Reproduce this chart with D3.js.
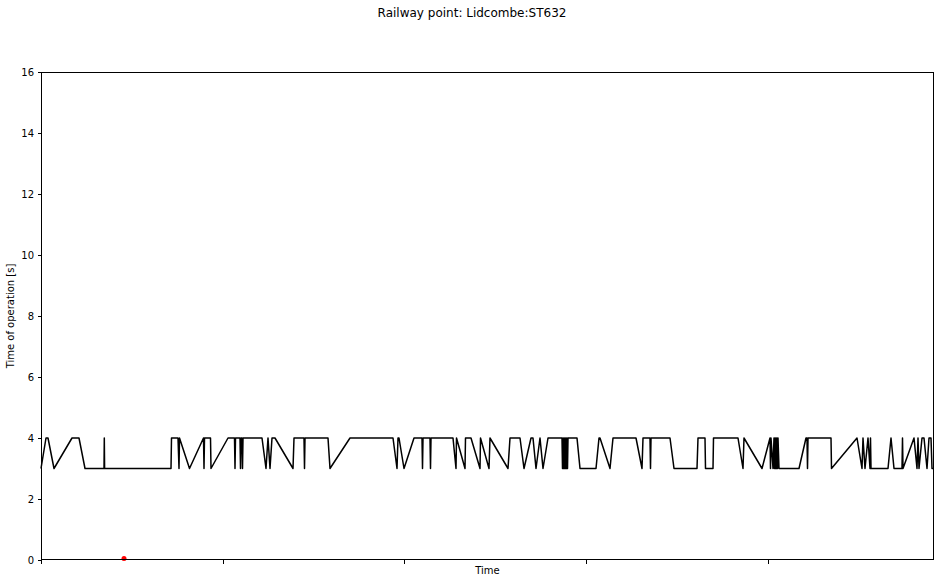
<!DOCTYPE html>
<html>
<head>
<meta charset="utf-8">
<script src="https://cdn.jsdelivr.net/npm/d3@7"></script>
<style>
  html, body { margin: 0; padding: 0; background: #fff; }
  svg { display: block; font-family: "DejaVu Sans", sans-serif; }
</style>
</head>
<body>
<svg id="chart" width="944" height="582"></svg>
<script>
// ---- data (time in arbitrary units since start, value in seconds) ----
const titleText = "Railway point: Lidcombe:ST632";
const xLabel = "Time";
const yLabel = "Time of operation [s]";

const times = [
  0, 5, 7, 13, 31, 38, 44, 63, 63.3, 63.6,
  130, 130.5, 137, 138, 138.5, 148.5, 162.5, 163, 163.5, 169.5,
  170, 187, 193.5, 194, 194.5, 199, 199.5, 200, 201, 201.5,
  202, 221, 225, 227, 229, 231, 234, 252, 253, 263,
  263.5, 264, 287, 289, 309, 352, 356, 357, 358, 363,
  373, 381, 381.5, 382, 389, 389.5, 390, 412, 415, 415.5,
  424, 424.5, 430, 439, 439.5, 448, 449, 467, 469, 479,
  483, 490, 492, 495, 499, 502, 507, 521, 521.5, 522,
  522.5, 523, 523.5, 524, 524.5, 525, 525.5, 526, 526.5, 527,
  536, 539, 555, 558, 559, 569, 572, 595, 601, 602,
  609, 609.5, 610, 629, 633, 656, 657, 664, 664.5, 672,
  672.5, 697, 702, 703, 721, 729, 729.5, 730, 732, 733,
  733.5, 734, 734.5, 735, 735.5, 736, 736.5, 737, 738, 758,
  765, 766, 766.5, 767, 790, 790.5, 816, 821, 822, 824,
  827, 829, 829.5, 830, 847, 850, 853, 861, 861.5, 862,
  873, 876, 877, 878, 881, 883, 886, 888, 890, 891, 893
];
const values = [
  3, 4, 4, 3, 4, 4, 3, 3, 4, 3,
  3, 4, 4, 3, 4, 3, 4, 3, 4, 4,
  3, 4, 4, 3, 4, 4, 3, 4, 4, 3,
  4, 4, 3, 4, 3, 4, 4, 3, 4, 4,
  3, 4, 4, 3, 4, 4, 3, 4, 4, 3,
  4, 4, 3, 4, 4, 3, 4, 4, 3, 4,
  3, 4, 4, 3, 4, 3, 4, 3, 4, 4,
  3, 4, 4, 3, 4, 3, 4, 4, 3, 4,
  3, 4, 3, 4, 3, 4, 3, 4, 3, 4,
  4, 3, 3, 4, 4, 3, 4, 4, 3, 4,
  4, 3, 4, 4, 3, 3, 4, 4, 3, 3,
  4, 4, 3, 4, 3, 4, 3, 4, 3, 4,
  3, 4, 3, 4, 3, 4, 3, 4, 3, 3,
  4, 4, 3, 4, 4, 3, 4, 3, 4, 3,
  4, 3, 4, 3, 3, 4, 3, 3, 4, 3,
  4, 3, 4, 3, 4, 4, 3, 4, 4, 3, 3
];
// single flagged point (red)
const flagTimes = [83];
const flagValues = [0.05];

const xDomain = [0, 893];
const xTickValues = [0, 182, 363, 545, 727];
const yDomain = [0, 16];
const yTickValues = [0, 2, 4, 6, 8, 10, 12, 14, 16];

// ---- layout ----
const W = 944, H = 582;
const m = { left: 41, right: 10, top: 72, bottom: 22 };
const x0 = m.left, x1 = W - m.right, y0 = m.top, y1 = H - m.bottom;

const svg = d3.select("#chart");
const x = d3.scaleLinear().domain(xDomain).range([x0, x1]);
const y = d3.scaleLinear().domain(yDomain).range([y1, y0]);

const pts = times.map((t, i) => ({ t: t, v: values[i] }));

// line
svg.append("path")
  .datum(pts)
  .attr("fill", "none")
  .attr("stroke", "#000")
  .attr("stroke-width", 1.5)
  .attr("stroke-linejoin", "round")
  .attr("d", d3.line().x(d => x(d.t)).y(d => y(d.v)));

// red point
svg.append("g").selectAll("circle")
  .data(flagTimes.map((t, i) => ({ t: t, v: flagValues[i] })))
  .join("circle")
  .attr("cx", d => x(d.t))
  .attr("cy", d => y(d.v))
  .attr("r", 2.5)
  .attr("fill", "red");

// axes
const xAxis = d3.axisBottom(x).tickValues(xTickValues).tickFormat("").tickSize(3.5).tickSizeOuter(0);
const yAxis = d3.axisLeft(y).tickValues(yTickValues).tickFormat(d3.format("d")).tickSize(3.5).tickPadding(3.5).tickSizeOuter(0);

const gx = svg.append("g").attr("transform", `translate(0,${y1})`).call(xAxis);
const gy = svg.append("g").attr("transform", `translate(${x0},0)`).call(yAxis);
[gx, gy].forEach(g => {
  g.select(".domain").remove();
  g.selectAll(".tick line").attr("stroke", "#000").attr("stroke-width", 1).attr("shape-rendering", "crispEdges");
  g.selectAll("text").attr("fill", "#000").style("font-size", "10px").style("font-family", "DejaVu Sans");
});

// frame (spines)
svg.append("rect")
  .attr("x", x0 + 0.5).attr("y", y0 + 0.5)
  .attr("width", x1 - x0 - 1).attr("height", y1 - y0 - 1)
  .attr("fill", "none").attr("stroke", "#000").attr("stroke-width", 1)
  .attr("shape-rendering", "crispEdges");

// labels
svg.append("text")
  .attr("x", (x0 + x1) / 2).attr("y", y1 + 13.5)
  .attr("text-anchor", "middle")
  .style("font-size", "10px")
  .text(xLabel);

svg.append("text")
  .attr("transform", `translate(14,${(y0 + y1) / 2}) rotate(-90)`)
  .attr("text-anchor", "middle")
  .style("font-size", "10px")
  .text(yLabel);

svg.append("text")
  .attr("x", W / 2).attr("y", 17)
  .attr("text-anchor", "middle")
  .style("font-size", "12px")
  .text(titleText);
</script>
</body>
</html>
